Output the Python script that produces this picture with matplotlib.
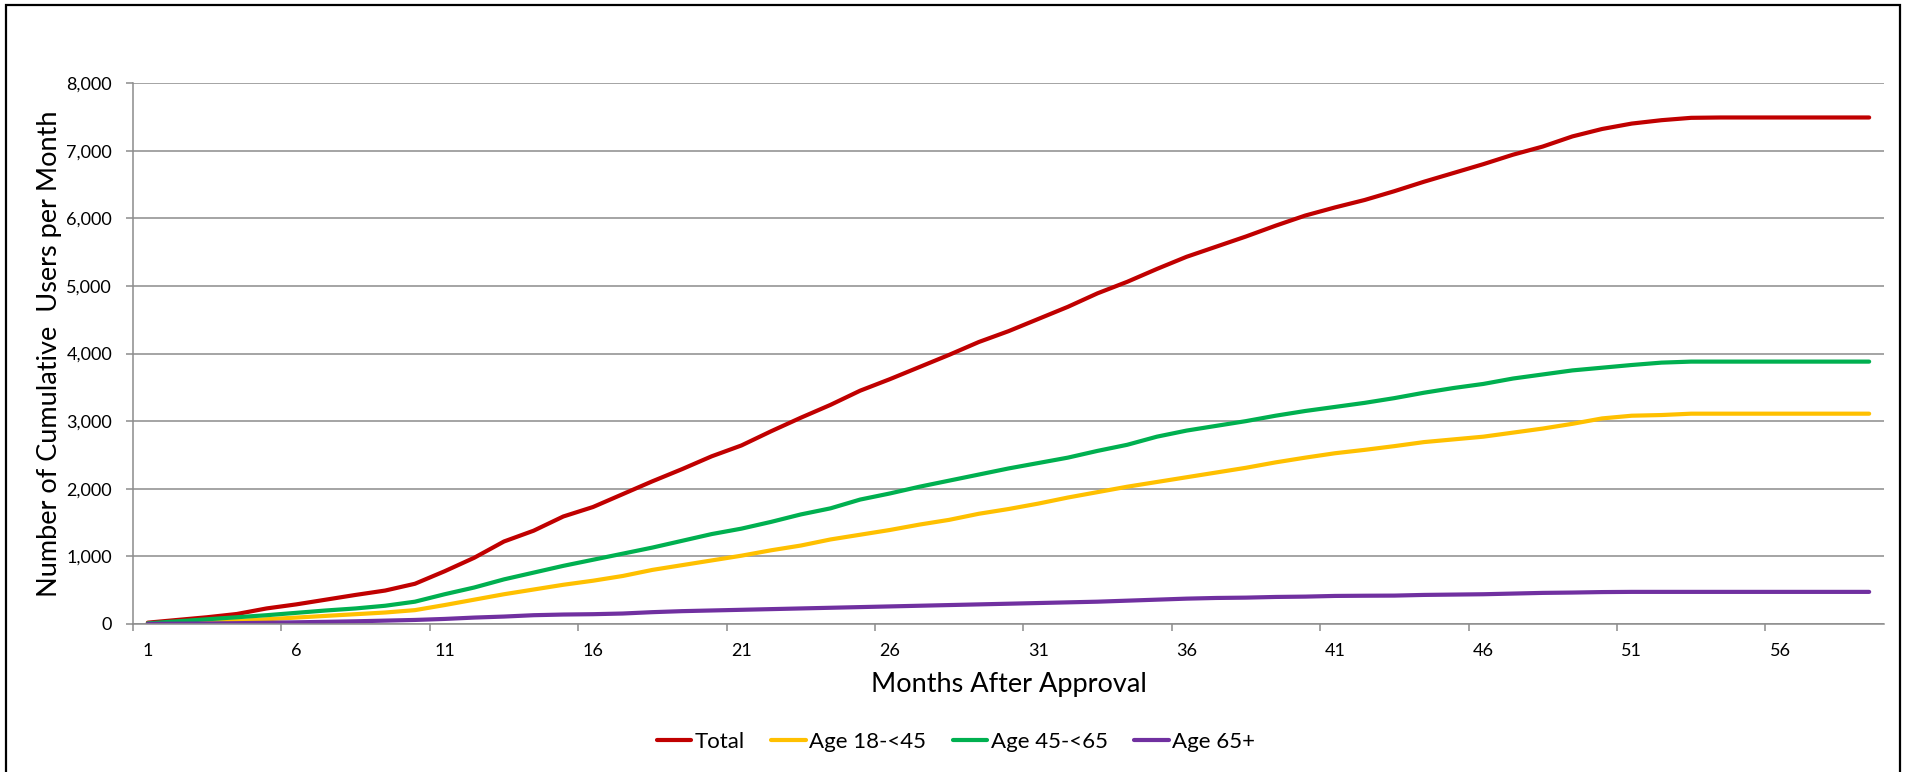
import matplotlib
matplotlib.use('Agg')
import matplotlib.pyplot as plt
from matplotlib.patches import Rectangle
import numpy as np

plt.rcParams['font.family'] = ['Lato', 'DejaVu Sans']

# months after approval
months = list(range(1, 60))

total = [20, 60, 100, 148, 230, 290, 360, 430, 495, 595,
         780, 980, 1220, 1380, 1590, 1730, 1920, 2110, 2290, 2480,
         2640, 2850, 3050, 3240, 3450, 3620, 3800, 3980, 4170, 4330,
         4510, 4690, 4890, 5060, 5250, 5430, 5580, 5730, 5890, 6040,
         6160, 6270, 6400, 6540, 6670, 6800, 6940, 7060, 7210, 7320,
         7400, 7450, 7485, 7490, 7490, 7490, 7490, 7490, 7490]
age_18_45 = [5, 15, 30, 45, 70, 95, 120, 145, 170, 205,
             280, 360, 440, 510, 580, 640, 710, 800, 870, 940,
             1010, 1090, 1160, 1250, 1320, 1390, 1470, 1540, 1630, 1700,
             1780, 1870, 1950, 2030, 2100, 2170, 2240, 2310, 2390, 2460,
             2525, 2575, 2630, 2690, 2730, 2770, 2830, 2890, 2960, 3040,
             3080, 3090, 3110, 3110, 3110, 3110, 3110, 3110, 3110]
age_45_65 = [10, 40, 70, 100, 130, 165, 200, 230, 270, 330,
             440, 540, 660, 760, 860, 950, 1040, 1130, 1230, 1330,
             1410, 1510, 1620, 1710, 1840, 1930, 2030, 2120, 2210, 2300,
             2380, 2460, 2560, 2650, 2770, 2860, 2930, 3000, 3080, 3150,
             3210, 3270, 3340, 3420, 3490, 3550, 3630, 3690, 3750, 3790,
             3830, 3865, 3880, 3880, 3880, 3880, 3880, 3880, 3880]
age_65 = [2, 5, 8, 12, 18, 25, 32, 40, 50, 60,
          75, 95, 110, 130, 140, 145, 155, 175, 190, 200,
          210, 220, 230, 240, 250, 260, 270, 280, 290, 300,
          310, 320, 330, 345, 360, 375, 385, 390, 400, 405,
          415, 418, 420, 430, 435, 440, 450, 460, 465, 472,
          475, 475, 475, 475, 475, 475, 475, 475, 475]

series = [('Total', total, '#C00000'),
          ('Age 18-<45', age_18_45, '#FFC000'),
          ('Age 45-<65', age_45_65, '#00B050'),
          ('Age 65+', age_65, '#7030A0')]

fig = plt.figure(figsize=(19.09, 7.72), dpi=100)
ax = fig.add_axes([133 / 1909, 1 - 624 / 772, 1751 / 1909, 541 / 772])

grid_c = '#8c8c8c'
handles = []
for name, vals, col in series:
    h, = ax.plot(months, vals, color=col, lw=3.0, solid_capstyle='round',
                 solid_joinstyle='round', label=name)
    handles.append(h)

ax.set_xlim(0.5, 59.5)
ax.set_ylim(0, 8000)
ax.set_yticks(np.arange(0, 8001, 1000))
ax.set_yticklabels([f'{v:,}' for v in range(0, 8001, 1000)])
ax.yaxis.grid(True, color=grid_c, lw=1.1)
ax.set_axisbelow(True)

# tick marks between categories, labels on categories
ax.set_xticks(np.arange(0.5, 59, 5))
ax.set_xticklabels([])
ax.set_xticks(months[::5], minor=True)
ax.set_xticklabels([str(m) for m in months[::5]], minor=True)
ax.tick_params(axis='x', which='major', length=5, color=grid_c, width=1.1)
ax.tick_params(axis='x', which='minor', length=0, pad=14, labelsize=13)
ax.tick_params(axis='y', length=5, color=grid_c, width=1.1, pad=10, labelsize=13)

for s in ['top', 'right']:
    ax.spines[s].set_visible(False)
for s in ['left', 'bottom']:
    ax.spines[s].set_color(grid_c)
    ax.spines[s].set_linewidth(1.1)

ax.set_xlabel('Months After Approval', fontsize=19.5)
ax.xaxis.set_label_coords(0.5, -(672 - 624) / 541)
ax.set_ylabel('Number of Cumulative  Users per Month', fontsize=19.5)
ax.yaxis.set_label_coords(-(133 - 62) / 1751, 0.5)

fig.legend(handles=handles, loc='center', ncol=4, frameon=False,
           bbox_to_anchor=(956 / 1909, 1 - 742 / 772), fontsize=16,
           handlelength=1.55, handletextpad=0.15, columnspacing=1.2)

fig.patches.append(Rectangle((6 / 1909, -0.05), 1894 / 1909, 1.05 - 5 / 772,
                             transform=fig.transFigure, fill=False,
                             edgecolor='black', lw=1.6))

fig.savefig('out.png', dpi=100)
